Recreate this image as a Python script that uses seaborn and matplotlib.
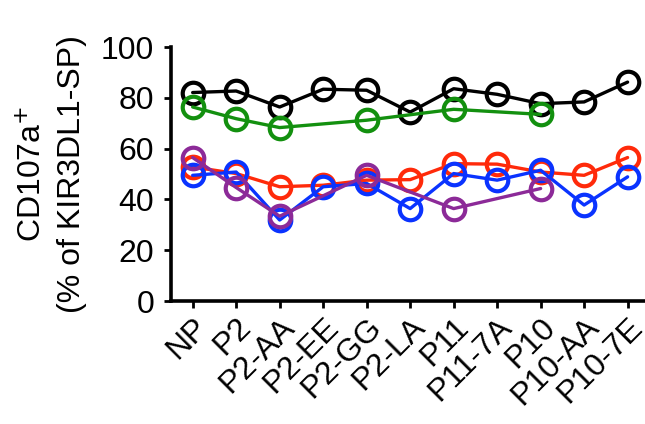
import numpy as np
import pandas as pd
import seaborn as sns
import matplotlib
matplotlib.use('Agg')
import matplotlib.pyplot as plt

peptides = ['NP', 'P2', 'P2-AA', 'P2-EE', 'P2-GG', 'P2-LA', 'P11', 'P11-7A', 'P10', 'P10-AA', 'P10-7E']

black = [82.1, 82.7, 76.4, 83.4, 83.0, 74.4, 83.6, 81.4, 77.7, 78.4, 86.2]
green = [76.4, 71.8, 68.3, np.nan, 71.2, np.nan, 75.5, np.nan, 73.5, np.nan, np.nan]
red = [52.8, 50.2, 45.0, 45.6, 47.6, 47.8, 54.1, 53.9, 50.8, 49.5, 56.5]
blue = [49.5, 50.8, 31.9, 45.0, 46.3, 36.4, 50.2, 47.6, 51.5, 37.8, 48.9]
purple = [56.5, 44.7, 33.4, np.nan, 49.5, np.nan, 36.4, np.nan, 44.3, np.nan, np.nan]

series = {'black': black, 'green': green, 'red': red, 'blue': blue, 'purple': purple}
colors = {'black': '#000000', 'green': '#13900f', 'red': '#ff2a0a', 'blue': '#0a33ff', 'purple': '#8c2a98'}

rows = []
for name, vals in series.items():
    for i, v in enumerate(vals):
        rows.append({'donor': name, 'pos': i, 'value': v})
df = pd.DataFrame(rows)

sns.set_style('ticks')
plt.rcParams['font.family'] = ['Liberation Sans', 'DejaVu Sans']
plt.rcParams['axes.labelcolor'] = 'black'
plt.rcParams['text.color'] = 'black'

fig = plt.figure(figsize=(6.45, 4.24), dpi=100)
ax = fig.add_axes([0.265, 0.29, 0.735, 0.599])

for name in series:
    sub = df[df['donor'] == name].dropna()
    sns.lineplot(data=sub, x='pos', y='value', ax=ax, color=colors[name],
                 marker='o', markersize=15.5, markerfacecolor='none',
                 markeredgecolor=colors[name], markeredgewidth=3.0,
                 linewidth=2.4, sort=False, clip_on=False)

ax.set_xlim(-0.5, 10.4)
ax.set_ylim(0, 100)
ax.set_yticks([0, 20, 40, 60, 80, 100])
ax.set_xticks(range(len(peptides)))
ax.set_xticklabels(peptides, rotation=45, ha='right', rotation_mode='anchor')
ax.tick_params(axis='both', labelsize=23, width=2, length=5, direction='out',
               colors='black', labelcolor='black')
ax.tick_params(axis='x', pad=3)
ax.tick_params(axis='y', pad=7)
ax.set_xlabel('')
ax.set_ylabel('CD107a$^{+}$\n(% of KIR3DL1-SP)', fontsize=23, labelpad=10,
              linespacing=1.4, color='black')
for s in ['top', 'right']:
    ax.spines[s].set_visible(False)
for s in ['left', 'bottom']:
    ax.spines[s].set_linewidth(2.6)
    ax.spines[s].set_color('black')

fig.savefig('out.png', dpi=100)
